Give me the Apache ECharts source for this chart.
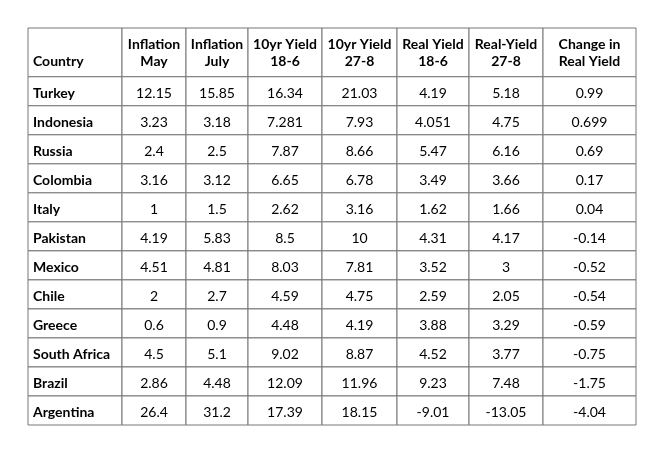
<!DOCTYPE html>
<html><head><meta charset="utf-8">
<script src="https://cdn.jsdelivr.net/npm/echarts@6/dist/echarts.min.js"></script>
<style>html,body{margin:0;padding:0;background:#fff}#c{width:660px;height:466px}</style>
</head><body><div id="c"></div>
<script>
const headers = ["\nCountry","Inflation\nMay","Inflation\nJuly","10yr Yield\n18-6","10yr Yield\n27-8","Real Yield\n18-6","Real-Yield\n27-8","Change in\nReal Yield"];
const countries = ["Turkey","Indonesia","Russia","Colombia","Italy","Pakistan","Mexico","Chile","Greece","South Africa","Brazil","Argentina"];
const inflationMay = ["12.15","3.23","2.4","3.16","1","4.19","4.51","2","0.6","4.5","2.86","26.4"];
const inflationJuly = ["15.85","3.18","2.5","3.12","1.5","5.83","4.81","2.7","0.9","5.1","4.48","31.2"];
const yield186 = ["16.34","7.281","7.87","6.65","2.62","8.5","8.03","4.59","4.48","9.02","12.09","17.39"];
const yield278 = ["21.03","7.93","8.66","6.78","3.16","10","7.81","4.75","4.19","8.87","11.96","18.15"];
const real186 = ["4.19","4.051","5.47","3.49","1.62","4.31","3.52","2.59","3.88","4.52","9.23","-9.01"];
const real278 = ["5.18","4.75","6.16","3.66","1.66","4.17","3","2.05","3.29","3.77","7.48","-13.05"];
const changeReal = ["0.99","0.699","0.69","0.17","0.04","-0.14","-0.52","-0.54","-0.59","-0.75","-1.75","-4.04"];

// layout (column widths and row heights in px-units)
const colW = [94,64,62,74,75,72,74,93];
const headH = 50, rowH = 29.75;
const colEdges=[0]; colW.forEach(w=>colEdges.push(colEdges[colEdges.length-1]+w));
const rowEdges=[0,headH]; countries.forEach(()=>rowEdges.push(rowEdges[rowEdges.length-1]+rowH));

const cols=[countries,inflationMay,inflationJuly,yield186,yield278,real186,real278,changeReal];
const data=[];
headers.forEach((h,c)=>data.push([c,0,h]));
countries.forEach((_,r)=>cols.forEach((arr,c)=>data.push([c,r+1,arr[r]])));

const chart=echarts.init(document.getElementById('c'));
chart.setOption({
  animation:false,
  grid:{left:28,right:24,top:28,bottom:41},
  xAxis:{type:'value',min:0,max:colEdges[colEdges.length-1],show:false},
  yAxis:{type:'value',min:0,max:rowEdges[rowEdges.length-1],inverse:true,show:false},
  series:[{
    type:'custom',
    data:data,
    renderItem:function(params,api){
      const c=api.value(0), r=api.value(1), t=data[params.dataIndex][2];
      const p0=api.coord([colEdges[c],rowEdges[r]]);
      const p1=api.coord([colEdges[c+1],rowEdges[r+1]]);
      const bold = r===0 || c===0;
      const left = c===0;
      const ty = r===0 ? (p0[1]+p1[1])/2+1 : (p0[1]+p1[1])/2+2;
      return {type:'group',children:[
        {type:'rect',shape:{x:p0[0],y:p0[1],width:p1[0]-p0[0],height:p1[1]-p0[1]},
         style:{fill:'#fff',stroke:'#777',lineWidth:1}},
        {type:'text',style:{text:t,x:left?p0[0]+5:(p0[0]+p1[0])/2,y:ty,
          align:left?'left':'center',verticalAlign:'middle',
          font:(bold?'bold ':'')+'14px Lato',lineHeight:17,fill:'#000'}}
      ]};
    }
  }]
});
</script></body></html>
